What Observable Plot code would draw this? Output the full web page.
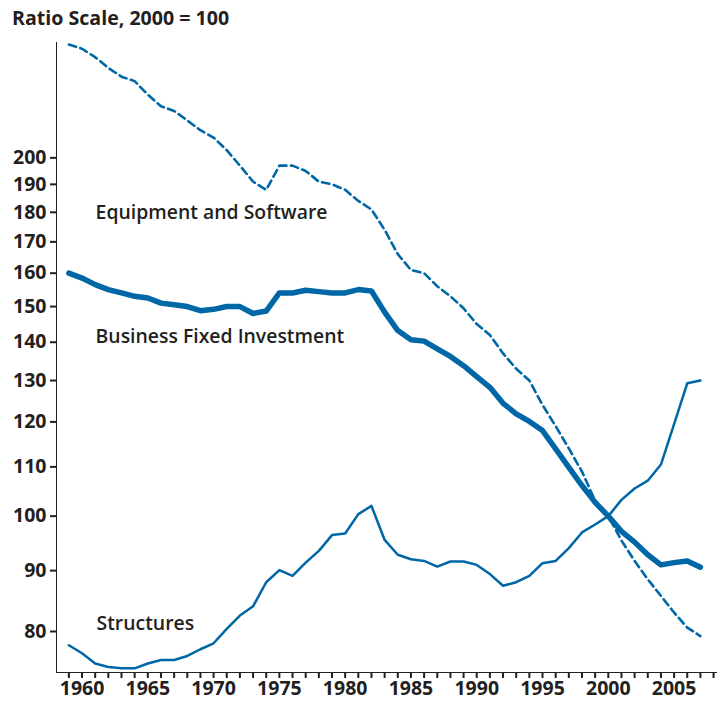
<!DOCTYPE html>
<html>
<head>
<meta charset="utf-8">
<script src="https://cdn.jsdelivr.net/npm/d3@7"></script>
<script src="https://cdn.jsdelivr.net/npm/@observablehq/plot@0.6"></script>
<style>
  html, body { margin: 0; padding: 0; background: #fff; }
  #title { font-family: "Open Sans", sans-serif; font-weight: 700; font-size: 19.6px; color: #231f20;
           height: 36px; line-height: 36px; padding-left: 12px; box-sizing: border-box; }
  svg { display: block; }
</style>
</head>
<body>
<div id="title">Ratio Scale, 2000 = 100</div>
<div id="chart"></div>
<script>
const years = d3.range(1959, 2008);
const equipmentSoftware = [249, 247, 243, 238, 234, 232, 226, 221, 219, 215, 211, 208, 203, 197, 191, 188, 197, 197, 195, 191, 190, 188, 184, 181, 174, 166, 161, 160, 156, 153, 149.5, 145, 142, 137, 133, 130, 124, 119, 114, 109, 103, 100, 95.4, 91.7, 88.5, 85.7, 83, 80.6, 79.3];
const businessFixed = [160, 158.5, 156.5, 155, 154, 153, 152.5, 151, 150.5, 150, 148.8, 149.2, 150, 150, 148, 148.7, 154, 154, 154.8, 154.4, 154, 154, 155, 154.6, 148.4, 143.2, 140.7, 140.3, 138.2, 136.2, 133.8, 131, 128.3, 124.4, 121.9, 120.1, 118, 113.9, 109.9, 106.1, 102.7, 100, 97.1, 95.1, 92.8, 91, 91.4, 91.7, 90.6];
const structures = [77.9, 76.7, 75.2, 74.7, 74.5, 74.5, 75.2, 75.7, 75.7, 76.3, 77.3, 78.2, 80.4, 82.5, 84, 88, 90.1, 89.1, 91.4, 93.5, 96.4, 96.7, 100.4, 102, 95.5, 92.8, 92, 91.7, 90.7, 91.6, 91.6, 91, 89.4, 87.4, 88, 89.1, 91.3, 91.7, 94, 96.9, 98.4, 100, 103.2, 105.5, 107.1, 110.5, 119.5, 129.3, 130];

const yTicks = [80, 90, 100, 110, 120, 130, 140, 150, 160, 170, 180, 190, 200];
const xTicks = d3.range(1959, 2009);
const xLabelEvery = 5;

const seriesNames = ["Equipment and Software", "Business Fixed Investment", "Structures"];
const labelYears = [1961.03, 1961.03, 1961.1];
const labelValues = [180, 141.5, 81.2];

const toRows = (vals) => years.map((yr, i) => ({year: yr, value: vals[i]}));
const labels = seriesNames.map((name, i) => ({name, year: labelYears[i], value: labelValues[i]}));

const blue = "#0067a6";
const ink = "#231f20";

const chart = Plot.plot({
  width: 717,
  height: 670,
  marginTop: 6,
  marginBottom: 34,
  marginLeft: 56,
  marginRight: 0,
  style: {fontFamily: "'Open Sans', sans-serif", fontSize: "19.5px", color: ink, background: "#fff"},
  x: {domain: [1958.06, 2008.3], ticks: xTicks, tickSize: 6, tickPadding: 3,
      tickFormat: d => d % xLabelEvery === 0 ? String(d) : "", label: null, line: true},
  y: {type: "log", domain: [73.9, 250], ticks: yTicks, tickSize: 6, tickPadding: 4,
      tickFormat: d => String(d), label: null, line: true},
  marks: [
    Plot.line(toRows(equipmentSoftware), {x: "year", y: "value", stroke: blue, strokeWidth: 2.6, strokeDasharray: "7.5,4.5"}),
    Plot.line(toRows(structures), {x: "year", y: "value", stroke: blue, strokeWidth: 2.5}),
    Plot.line(toRows(businessFixed), {x: "year", y: "value", stroke: blue, strokeWidth: 5.5}),
    Plot.text(labels, {x: "year", y: "value", text: "name", textAnchor: "start", fill: ink, fontSize: 19.4, fontWeight: 600})
  ]
});
document.getElementById("chart").appendChild(chart);
d3.select(chart).selectAll("[aria-label^='x-axis'] text, [aria-label^='y-axis'] text").attr("font-weight", 700);
d3.select(chart).selectAll("[aria-label$='tick']").attr("stroke-width", 2).attr("stroke", ink);
</script>
</body>
</html>
